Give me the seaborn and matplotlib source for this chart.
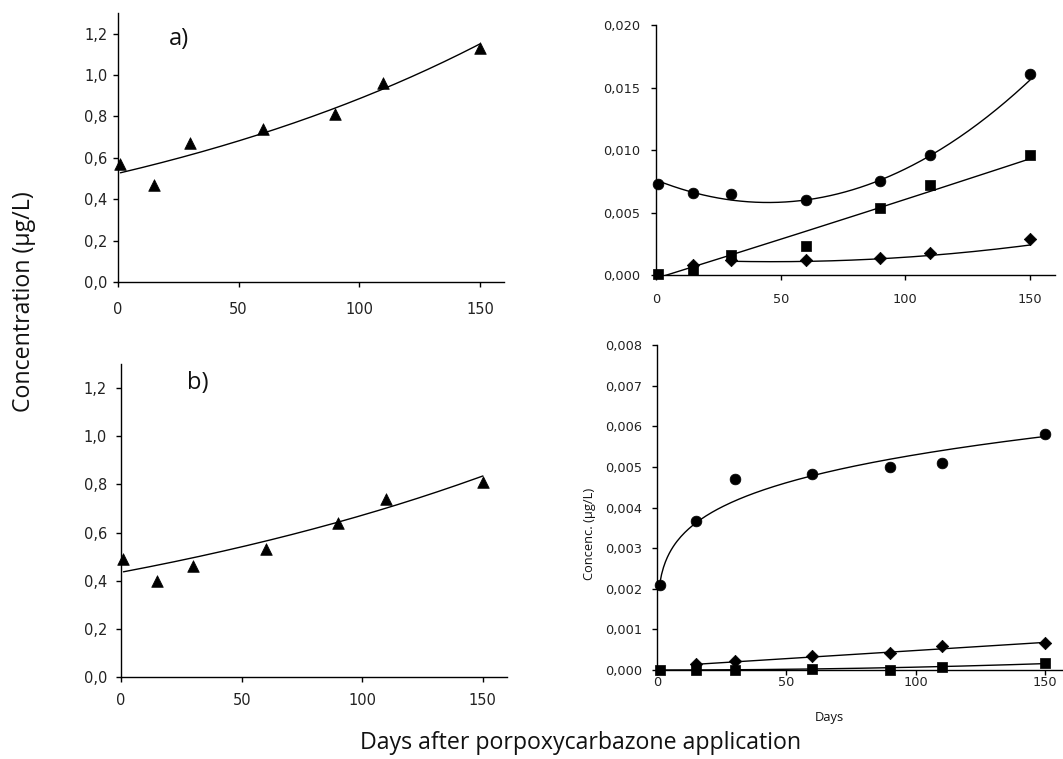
import numpy as np
import pandas as pd
import matplotlib
matplotlib.use("Agg")
import matplotlib.pyplot as plt
from matplotlib.ticker import FuncFormatter, MultipleLocator
import seaborn as sns

# ---------------- data ----------------
days = [1, 15, 30, 60, 90, 110, 150]

# a) parent compound (triangles) and metabolites (circle / square / diamond)
a_parent = [0.57, 0.47, 0.67, 0.74, 0.81, 0.96, 1.13]
a_circle = [0.0073, 0.0066, 0.0065, 0.0060, 0.0075, 0.0096, 0.0161]
a_square = [0.0001, 0.0004, 0.0016, 0.0023, 0.0054, 0.0072, 0.0096]
a_diamond_days = [15, 30, 60, 90, 110, 150]
a_diamond = [0.0008, 0.0012, 0.0012, 0.0014, 0.0018, 0.0029]

# b) parent compound (triangles) and metabolites
b_parent = [0.49, 0.40, 0.46, 0.53, 0.64, 0.74, 0.81]
b_circle = [0.0021, 0.00367, 0.0047, 0.00483, 0.0050, 0.0051, 0.0058]
b_square = [0.0, 0.0, 0.00001, 0.00002, 0.0, 0.00008, 0.00017]
b_diamond_days = [15, 30, 60, 90, 110, 150]
b_diamond = [0.00016, 0.00023, 0.00035, 0.00043, 0.00058, 0.00067]

# trend-line coefficients
a_parent_exp = [0.525, 0.00523]            # y = A * exp(k x)
b_parent_exp = [0.435, 0.004347]
a_circle_poly = [8.89e-7, -8.0e-5, 0.0076]  # quadratic
a_square_poly = [1.2e-8, 6.2e-5, -0.00027]
a_diamond_poly = [1.25e-7, -1.167e-5, 0.0013375]
b_circle_pow = [0.0021, 0.201]             # y = A * x^p
b_diamond_lin = [4.0e-6, 0.00008]
b_square_poly = [7.0e-9, 0.0, 0.0]

x_ticks = [0, 50, 100, 150]

# ---------------- style ----------------
sns.set_theme(style="ticks")
plt.rcParams["font.family"] = ["DejaVu Sans"]
plt.rcParams["axes.linewidth"] = 1.0
plt.rcParams["xtick.major.width"] = 1.0
plt.rcParams["ytick.major.width"] = 1.0
plt.rcParams["xtick.major.size"] = 3.6
plt.rcParams["ytick.major.size"] = 3.6

W, H = 1063, 759
fig = plt.figure(figsize=(W / 100, H / 100), dpi=100)


def add_ax(l, r, b, t):
    return fig.add_axes([l / W, 1 - b / H, (r - l) / W, (b - t) / H])


def comma(decimals):
    return FuncFormatter(lambda v, p: f"{v:.{decimals}f}".replace(".", ","))


def style_axis(ax, ymax, ystep, dec, fs, xpad, ypad):
    ax.set_xlim(0, 160)
    ax.set_ylim(0, ymax)
    ax.set_xticks(x_ticks)
    ax.yaxis.set_major_locator(MultipleLocator(ystep))
    ax.yaxis.set_major_formatter(comma(dec))
    ax.tick_params(axis="x", labelsize=fs, pad=xpad, colors="black", labelcolor="#222222")
    ax.tick_params(axis="y", labelsize=fs, pad=ypad, colors="black", labelcolor="#222222")
    for s in ["top", "right"]:
        ax.spines[s].set_visible(False)
    for s in ["left", "bottom"]:
        ax.spines[s].set_color("black")
    ax.set_xlabel("")
    ax.set_ylabel("")


def curve(ax, xs, ys):
    sns.lineplot(x=xs, y=ys, ax=ax, color="black", linewidth=1.0, clip_on=True)


def marks(ax, xs, ys, marker, size):
    sns.scatterplot(x=xs, y=ys, ax=ax, marker=marker, s=size, color="black",
                    edgecolor="black", linewidth=0.5, zorder=3, clip_on=False)


tri_s, circ_s, sq_s, dia_s = 70, 60, 55, 40

# ---- a) parent ----
ax1 = add_ax(118, 504, 282, 13)
xs = np.linspace(1, 150, 200)
curve(ax1, xs, a_parent_exp[0] * np.exp(a_parent_exp[1] * xs))
marks(ax1, days, a_parent, "^", tri_s)
style_axis(ax1, 1.3, 0.2, 1, 10.5, 11, 4)
ax1.set_yticks(np.arange(0, 1.21, 0.2))

# ---- a) metabolites ----
ax2 = add_ax(656, 1055, 275, 25)
curve(ax2, xs, np.polyval(a_circle_poly, xs))
curve(ax2, xs, np.polyval(a_square_poly, xs))
xd = np.linspace(30, 150, 150)
curve(ax2, xd, np.polyval(a_diamond_poly, xd))
marks(ax2, days, a_circle, "o", circ_s)
marks(ax2, days, a_square, "s", sq_s)
marks(ax2, a_diamond_days, a_diamond, "D", dia_s)
style_axis(ax2, 0.020, 0.005, 3, 9.3, 9, 8)

# ---- b) parent ----
ax3 = add_ax(121, 507, 677, 364)
curve(ax3, xs, b_parent_exp[0] * np.exp(b_parent_exp[1] * xs))
marks(ax3, days, b_parent, "^", tri_s)
style_axis(ax3, 1.3, 0.2, 1, 10.5, 8, 6.5)
ax3.set_yticks(np.arange(0, 1.21, 0.2))

# ---- b) metabolites ----
ax4 = add_ax(657, 1071, 670, 345)
curve(ax4, xs, b_circle_pow[0] * xs ** b_circle_pow[1])
xb = np.linspace(15, 150, 150)
curve(ax4, xb, np.polyval(b_diamond_lin, xb))
curve(ax4, xs, np.polyval(b_square_poly, xs))
marks(ax4, days, b_circle, "o", circ_s)
marks(ax4, days, b_square, "s", sq_s)
marks(ax4, b_diamond_days, b_diamond, "D", dia_s)
style_axis(ax4, 0.008, 0.001, 3, 9.3, 1, 7)

# ---- labels ----
lab_font = ["Open Sans", "DejaVu Sans"]
fig.text(24 / W, 1 - 302 / H, "Concentration (µg/L)", rotation=90, ha="center",
         va="center", fontsize=16.7, family=lab_font, color="#111111")
fig.text(581 / W, 1 - 743 / H, "Days after porpoxycarbazone application", ha="center",
         va="center", fontsize=16.7, family=lab_font, color="#111111")
fig.text(589 / W, 1 - 534 / H, "Concenc. (µg/L)", rotation=90, ha="center",
         va="center", fontsize=9.3, family=lab_font, color="#111111")
fig.text(829 / W, 1 - 717 / H, "Days", ha="center", va="center", fontsize=9.3,
         family=lab_font, color="#111111")
fig.text(179 / W, 1 - 39 / H, "a)", ha="center", va="center", fontsize=17,
         family=lab_font, color="#111111")
fig.text(198 / W, 1 - 383 / H, "b)", ha="center", va="center", fontsize=17,
         family=lab_font, color="#111111")

fig.savefig("out.png", dpi=100, facecolor="white")
